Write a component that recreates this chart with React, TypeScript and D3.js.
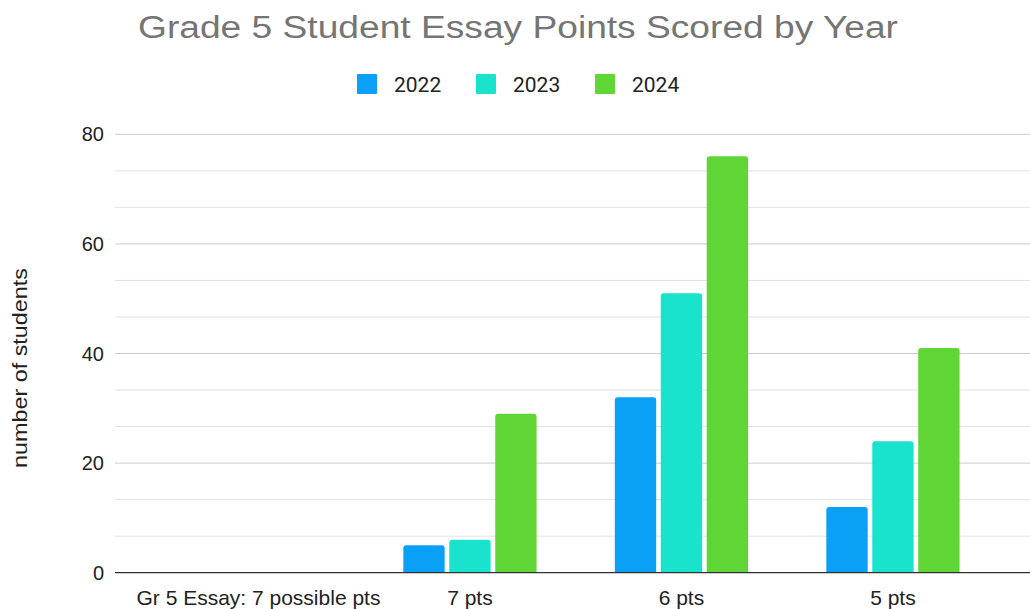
import React from "react";
import * as d3 from "d3";

const categories = ["Gr 5 Essay: 7 possible pts", "7 pts", "6 pts", "5 pts"];
const years = ["2022", "2023", "2024"];
const values2022 = [0, 5, 32, 12];
const values2023 = [0, 6, 51, 24];
const values2024 = [0, 29, 76, 41];
const colors = ["#0aa0f6", "#19e3cc", "#5fd636"];
const yTicks = [0, 20, 40, 60, 80];

const W = 1030;
const H = 609;

function topRoundedRect(x: number, y: number, w: number, h: number, r: number) {
  if (h <= 0) return "";
  const rr = Math.min(r, h, w / 2);
  return `M${x},${y + h}V${y + rr}Q${x},${y} ${x + rr},${y}H${x + w - rr}Q${x + w},${y} ${x + w},${y + rr}V${y + h}Z`;
}

export default function App() {
  const series = [values2022, values2023, values2024];
  const plotLeft = 115;
  const plotRight = 1040;
  const y = d3.scaleLinear().domain([0, 80]).range([572.7, 134.3]);
  const x0 = d3
    .scaleBand<string>()
    .domain(categories)
    .range([152.7, 998.7])
    .paddingInner(0.37)
    .paddingOuter(0.185);
  const x1 = d3.scaleBand<string>().domain(years).range([0, x0.bandwidth()]).paddingInner(0.1);
  const gridVals = d3.range(0, 81, 20 / 3);
  const font = "'Liberation Sans', Arial, sans-serif";

  return (
    <svg width={W} height={H} style={{ position: "absolute", left: 0, top: 0, background: "#fff" }}>
      <rect x={0} y={0} width={W} height={H} fill="#fff" />
      <text
        x={518}
        y={38}
        textAnchor="middle"
        fontFamily={font}
        fontSize={31}
        fill="#757575"
        textLength={760}
        lengthAdjust="spacingAndGlyphs"
      >
        Grade 5 Student Essay Points Scored by Year
      </text>
      {years.map((yr, i) => {
        const lx = 357 + i * 119;
        return (
          <g key={yr}>
            <rect x={lx} y={74} width={20} height={20} fill={colors[i]} rx={1} />
            <text x={lx + 37} y={92} fontFamily="Roboto, sans-serif" fontSize={21} fill="#222">
              {yr}
            </text>
          </g>
        );
      })}
      {gridVals.map((v, i) => {
        const major = Math.abs(v % 20) < 0.01 || Math.abs((v % 20) - 20) < 0.01;
        if (Math.abs(v) < 0.01) return null;
        return (
          <line
            key={i}
            x1={plotLeft}
            x2={plotRight}
            y1={y(v)}
            y2={y(v)}
            stroke={major ? "#cccccc" : "#e2e2e2"}
            strokeWidth={1}
          />
        );
      })}
      {yTicks.map((t) => (
        <text
          key={t}
          x={104}
          y={y(t) + 7}
          textAnchor="end"
          fontFamily={font}
          fontSize={20}
          fill="#222"
        >
          {t}
        </text>
      ))}
      <text
        transform={`translate(27,368) rotate(-90)`}
        textAnchor="middle"
        fontFamily={font}
        fontSize={20}
        fill="#222"
        textLength={200}
        lengthAdjust="spacingAndGlyphs"
      >
        number of students
      </text>
      {categories.map((c, ci) => (
        <g key={c} transform={`translate(${x0(c)},0)`}>
          {series.map((s, si) => {
            const v = s[ci];
            const bx = x1(years[si])!;
            const by = y(v);
            const bh = y(0) - by;
            return <path key={si} d={topRoundedRect(bx, by, x1.bandwidth(), bh, 3)} fill={colors[si]} />;
          })}
        </g>
      ))}
      <line x1={plotLeft} x2={plotRight} y1={y(0)} y2={y(0)} stroke="#333" strokeWidth={1.3} />
      {categories.map((c) => (
        <text
          key={c}
          x={x0(c)! + x0.bandwidth() / 2}
          y={605}
          textAnchor="middle"
          fontFamily={font}
          fontSize={21}
          fill="#222"
        >
          {c}
        </text>
      ))}
    </svg>
  );
}
